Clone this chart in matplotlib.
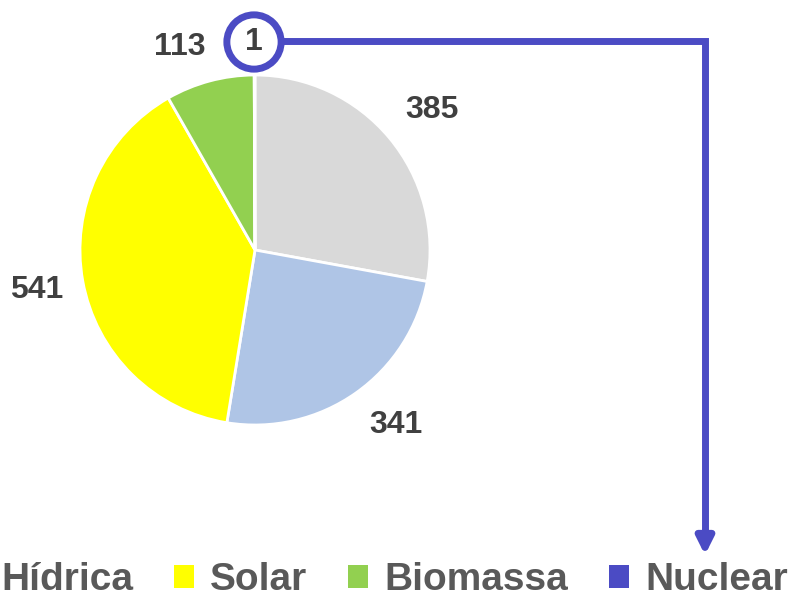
import matplotlib
matplotlib.use('Agg')
import matplotlib.pyplot as plt
from matplotlib.patches import Patch

plt.rcParams['font.family'] = ['Liberation Sans', 'DejaVu Sans']
plt.rcParams['font.weight'] = 'bold'

# slices clockwise from 12 o'clock
values = [385, 341, 541, 113, 1]
colors = ['#D9D9D9', '#AFC5E6', '#FFFF00', '#92D050', '#4B4BC4']
legend_names = ['Hídrica', 'Solar', 'Biomassa', 'Nuclear']
legend_colors = ['#AFC5E6', '#FFFF00', '#92D050', '#4B4BC4']

total = sum(values)
W, H = 800, 598

fig = plt.figure(figsize=(W / 100, H / 100), dpi=100)
ax = fig.add_axes([0, 0, 1, 1])

wedges, texts, autotexts = ax.pie(
    values, colors=colors, center=(255, 348), radius=175,
    startangle=90, counterclock=False,
    autopct=lambda p: '%d' % round(p * total / 100),
    pctdistance=1.27,
    wedgeprops=dict(edgecolor='white', linewidth=2),
    textprops=dict(fontsize=23, color='#404040', fontweight='bold'),
    frame=True)
ax.set_xlim(0, W)
ax.set_ylim(0, H)
ax.set_aspect('equal')
ax.axis('off')

# nudge value labels to where the original puts them
label_pos = [(432, 488), (396, 173), (37, 308), (180, 551)]
for t, p in zip(autotexts[:4], label_pos):
    t.set_position(p)

# the tiny nuclear slice gets a circled callout
nuc = autotexts[-1]
nuc.set_position((254, 556))
nuc.set_bbox(dict(boxstyle='circle,pad=0.38', fc='white', ec='#4B4BC4', lw=5))

ax.plot([284, 705, 705], [557, 557, 60], color='#4B4BC4', lw=5,
        solid_joinstyle='miter', zorder=1)
ax.annotate('', xy=(705, 43), xytext=(705, 64),
            arrowprops=dict(arrowstyle='-|>,head_width=0.5,head_length=1.0',
                            color='#4B4BC4', lw=5, shrinkA=0, shrinkB=0))

handles = [Patch(facecolor=c, edgecolor='none') for c in legend_colors]
leg = ax.legend(handles, legend_names, ncol=4, frameon=False,
                loc='lower left', bbox_to_anchor=(-35, 0),
                bbox_transform=ax.transData,
                prop=dict(size=28, weight='bold'),
                handlelength=0.52, handleheight=0.52, handletextpad=0.41,
                columnspacing=1.05, borderpad=0, borderaxespad=0)
for t in leg.get_texts():
    t.set_color('#595959')

fig.savefig('out.png', dpi=100)
